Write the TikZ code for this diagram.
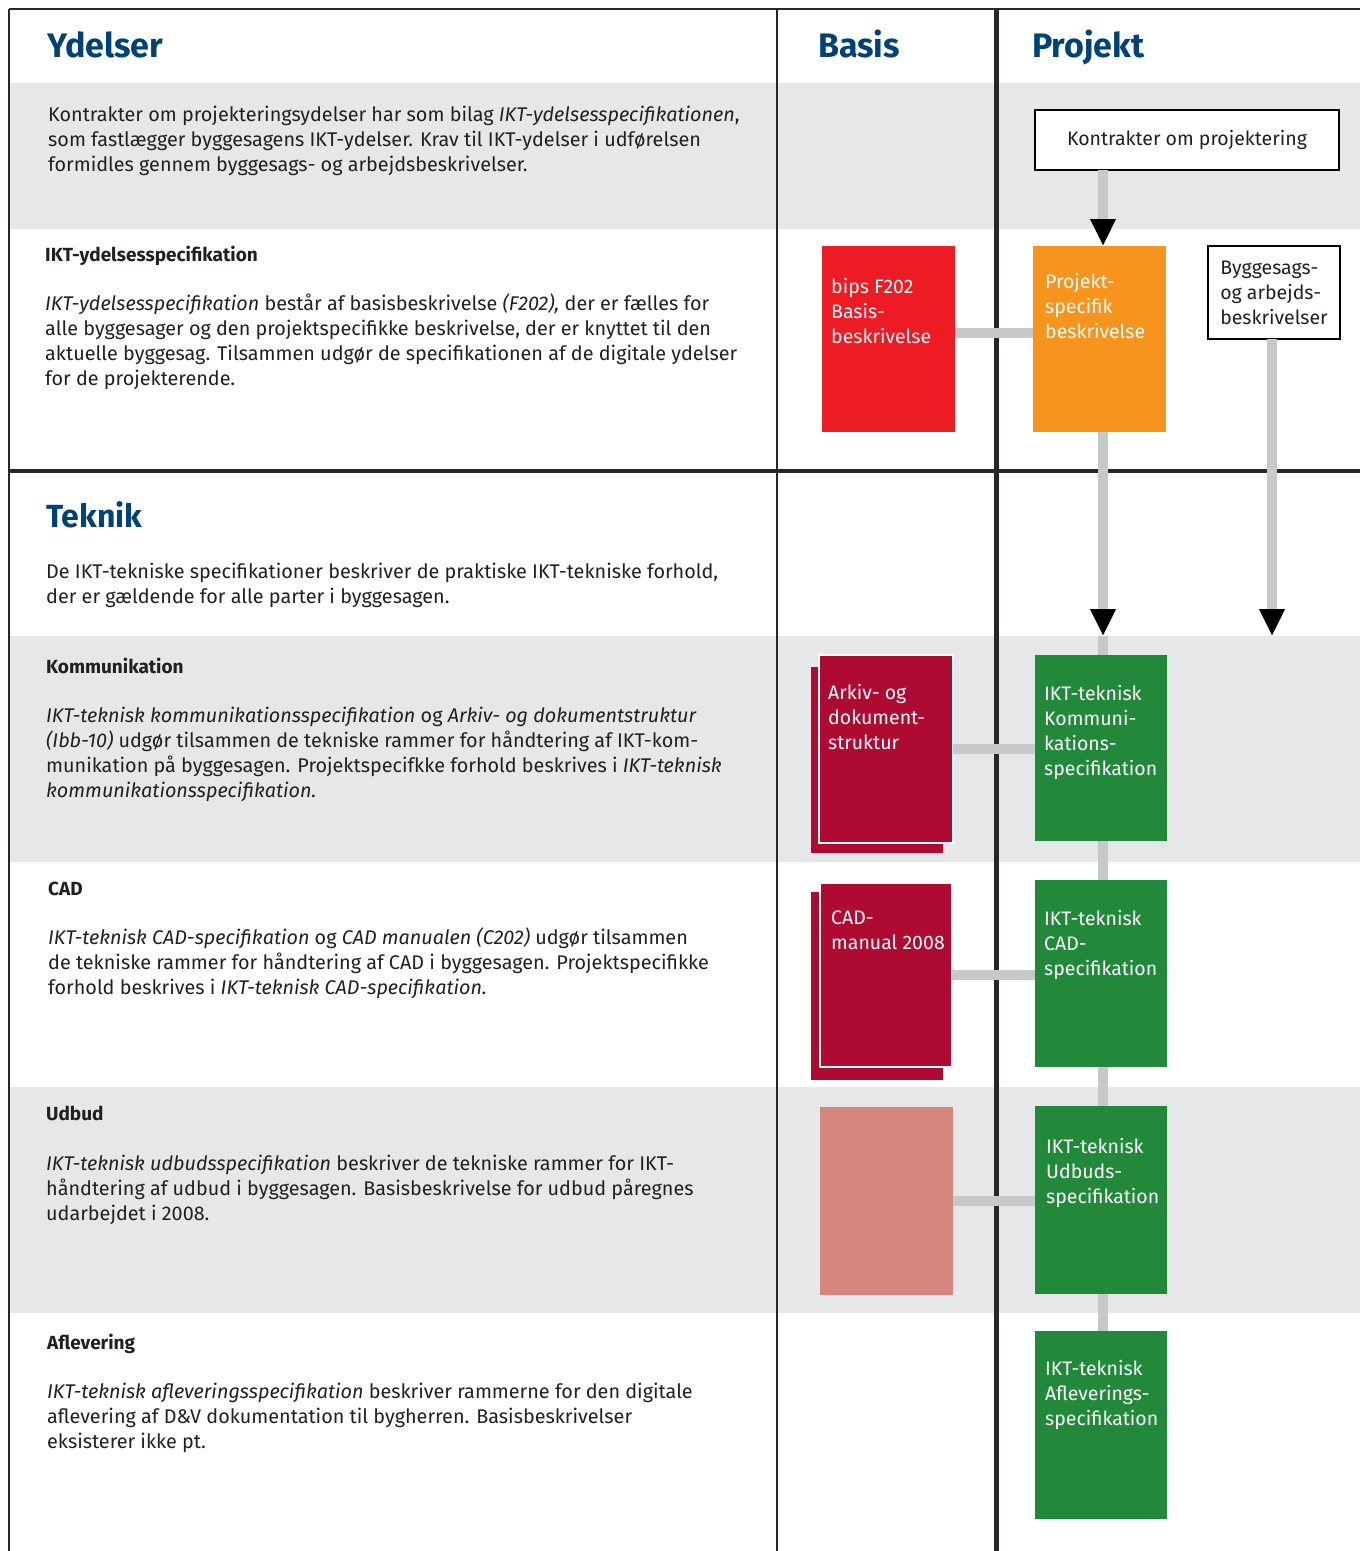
\documentclass[tikz,border=0pt]{standalone}
\usepackage{fontspec}
\setmainfont{Fira Sans}
\usetikzlibrary{arrows.meta}
\definecolor{headblue}{RGB}{0,66,117}
\definecolor{textcol}{RGB}{35,31,32}
\definecolor{band}{RGB}{230,231,233}
\definecolor{conngray}{RGB}{199,200,202}
\definecolor{boxred}{RGB}{237,28,36}
\definecolor{boxorange}{RGB}{247,148,30}
\definecolor{boxcrimson}{RGB}{175,11,50}
\definecolor{boxsalmon}{RGB}{214,134,126}
\definecolor{boxgreen}{RGB}{34,137,59}
\definecolor{framecol}{RGB}{40,38,40}
\tikzset{
  head/.style={anchor=base west, inner sep=0pt, text=headblue, font=\fontsize{34}{40}\selectfont\bfseries},
  sub/.style={anchor=base west, inner sep=0pt, text=textcol, font=\fontsize{19}{25}\selectfont\bfseries},
  para/.style={anchor=north west, inner sep=0pt, align=left, text=textcol, font=\fontsize{19.8}{25}\selectfont},
  boxlabel/.style={anchor=north west, inner sep=0pt, align=left, text=white, font=\fontsize{19.5}{25}\selectfont},
  blk/.style={rectangle, inner sep=0pt, outer sep=0pt},
  outlined/.style={blk, draw=black, line width=1.5pt, fill=white, text=textcol, font=\fontsize{19.5}{25}\selectfont},
  conn/.style={draw=conngray, line width=10pt},
  tipped/.style={-{Triangle[width=24pt,length=27pt,color=black,fill=black]}},
}
\begin{document}
\begin{tikzpicture}[x=1pt,y=-1pt]
\useasboundingbox (0,0) rectangle (1360,1551);
\fill[white] (0,0) rectangle (1360,1551);
% bands
\fill[band] (9,83) rectangle (1360,229);
\fill[band] (9,636) rectangle (1360,862);
\fill[band] (9,1087) rectangle (1360,1313);
% frame lines
\draw[framecol, line width=2pt] (9,9) -- (1360,9);
\draw[framecol, line width=2pt] (9,9) -- (9,1551);
\draw[framecol, line width=2pt] (777,9) -- (777,1551);
\draw[framecol, line width=5pt] (996,9) -- (996,1551);
\draw[framecol, line width=4pt] (9,471) -- (1360,471);

% headings
\node[head] (hYd) at (47,57) {Ydelser};
\node[head] (hBa) at (818,57) {Basis};
\node[head] (hPr) at (1032,57) {Projekt};
\node[head, font=\fontsize{32}{38}\selectfont\bfseries] (hTe) at (46,527) {Teknik};

% paragraphs
\node[para] (p1) at (48,103.5) {\strut Kontrakter om projekteringsydelser har som bilag \textit{IKT-ydelsesspecifikationen},\\
som fastlægger byggesagens IKT-ydelser. Krav til IKT-ydelser i udførelsen\\
formidles gennem byggesags- og arbejdsbeskrivelser.};

\node[sub] (s2) at (45,261) {IKT-ydelsesspecifikation};
\node[para] (p2) at (45,292.5) {\strut\textit{IKT-ydelsesspecifikation} består af basisbeskrivelse \textit{(F202),} der er fælles for\\
alle byggesager og den projektspecifikke beskrivelse, der er knyttet til den\\
aktuelle byggesag. Tilsammen udgør de specifikationen af de digitale ydelser\\
for de projekterende.};

\node[para] (p3) at (46,560.5) {\strut De IKT-tekniske specifikationer beskriver de praktiske IKT-tekniske forhold,\\
der er gældende for alle parter i byggesagen.};

\node[sub] (s4) at (46,673) {Kommunikation};
\node[para] (p4) at (46,704.5) {\strut\textit{IKT-teknisk kommunikationsspecifikation} og \textit{Arkiv- og dokumentstruktur}\\
\textit{(Ibb-10)} udgør tilsammen de tekniske rammer for håndtering af IKT-kom-\\
munikation på byggesagen. Projektspecifkke forhold beskrives i \textit{IKT-teknisk}\\
\textit{kommunikationsspecifikation.}};

\node[sub] (s5) at (48,895) {CAD};
\node[para] (p5) at (48,926.5) {\strut\textit{IKT-teknisk CAD-specifikation} og \textit{CAD manualen (C202)} udgør tilsammen\\
de tekniske rammer for håndtering af CAD i byggesagen. Projektspecifikke\\
forhold beskrives i \textit{IKT-teknisk CAD-specifikation.}};

\node[sub] (s6) at (46,1120) {Udbud};
\node[para] (p6) at (46,1152.5) {\strut\textit{IKT-teknisk udbudsspecifikation} beskriver de tekniske rammer for IKT-\\
håndtering af udbud i byggesagen. Basisbeskrivelse for udbud påregnes\\
udarbejdet i 2008.};

\node[sub] (s7) at (47,1349) {Aflevering};
\node[para] (p7) at (47,1380.5) {\strut\textit{IKT-teknisk afleveringsspecifikation} beskriver rammerne for den digitale\\
aflevering af D\&V dokumentation til bygherren. Basisbeskrivelser\\
eksisterer ikke pt.};

% boxes
\node[outlined, minimum width=304pt, minimum height=60pt] (kontr) at (1187,140) {Kontrakter om projektering};
\node[outlined, minimum width=132pt, minimum height=93pt, align=left] (bygg) at (1274,292.5) {Byggesags-\\og arbejds-\\beskrivelser};
\node[blk, fill=boxred, minimum width=133pt, minimum height=186pt] (red) at (888.5,339) {};
\node[blk, fill=boxorange, minimum width=133pt, minimum height=186pt] (orange) at (1099.5,339) {};
\node[blk, fill=boxcrimson, minimum width=132pt, minimum height=186pt] (arkB) at (877,760) {};
\node[blk, fill=boxcrimson, draw=white, line width=2pt, minimum width=134pt, minimum height=188pt] (arkF) at (886,749) {};
\node[blk, fill=boxcrimson, minimum width=132pt, minimum height=188pt] (cadB) at (877,986) {};
\node[blk, fill=boxcrimson, draw=white, line width=2pt, minimum width=132pt, minimum height=184pt] (cadF) at (886,975) {};
\node[blk, fill=boxsalmon, minimum width=133pt, minimum height=188pt] (salmon) at (886.5,1201) {};
\node[blk, fill=boxgreen, minimum width=132pt, minimum height=186pt] (g1) at (1101,748) {};
\node[blk, fill=boxgreen, minimum width=132pt, minimum height=187pt] (g2) at (1101,973.5) {};
\node[blk, fill=boxgreen, minimum width=132pt, minimum height=188pt] (g3) at (1101,1200) {};
\node[blk, fill=boxgreen, minimum width=132pt, minimum height=188pt] (g4) at (1101,1425) {};

% box labels
\node[boxlabel] (lred) at (831,275.5) {\strut bips F202\\Basis-\\beskrivelse};
\node[boxlabel] (lorange) at (1045,270.5) {\strut Projekt-\\specifik\\beskrivelse};
\node[boxlabel] (lark) at (828,681.5) {\strut Arkiv- og\\dokument-\\struktur};
\node[boxlabel] (lcad) at (831,906.5) {\strut CAD-\\manual 2008};
\node[boxlabel] (lg1) at (1044,682.5) {\strut IKT-teknisk\\Kommuni-\\kations-\\specifikation};
\node[boxlabel] (lg2) at (1044,907.5) {\strut IKT-teknisk\\CAD-\\specifikation};
\node[boxlabel] (lg3) at (1046,1135.5) {\strut IKT-teknisk\\Udbuds-\\specifikation};
\node[boxlabel] (lg4) at (1045,1357.5) {\strut IKT-teknisk\\Afleverings-\\specifikation};

% connectors
\coordinate (cx) at (1103,0);
\coordinate (bx) at (1272,0);
\coordinate (tip1) at (1103,636);
\coordinate (tip2) at (1272,636);
\draw[conn] ([yshift=6pt]red.east) -- ([yshift=6pt]orange.west);
\draw[conn] (arkF.east) -- (arkF.east -| g1.west);
\draw[conn] (cadF.east) -- (cadF.east -| g2.west);
\draw[conn] (salmon.east) -- (salmon.east -| g3.west);
\draw[conn, tipped] (kontr.south -| cx) -- (orange.north -| cx);
\draw[conn, tipped] (orange.south -| cx) -- (tip1);
\draw[conn] (tip1) -- (g1.north -| cx);
\draw[conn] (g1.south -| cx) -- (g2.north -| cx);
\draw[conn] (g2.south -| cx) -- (g3.north -| cx);
\draw[conn] (g3.south -| cx) -- (g4.north -| cx);
\draw[conn, tipped] (bygg.south -| bx) -- (tip2);
\end{tikzpicture}
\end{document}
